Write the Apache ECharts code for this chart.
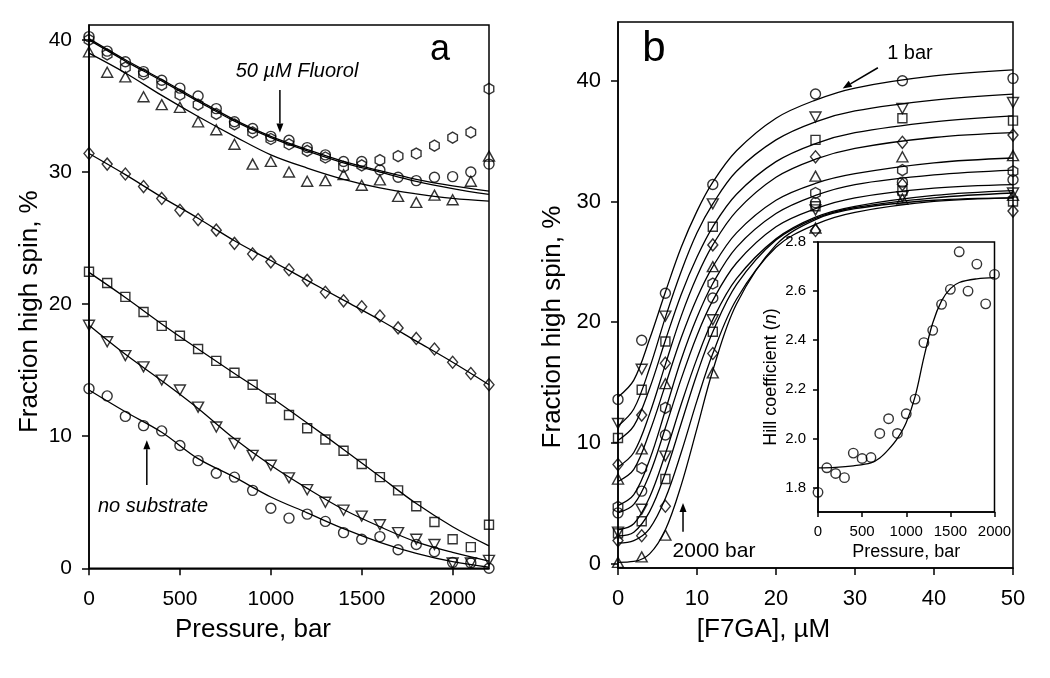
<!DOCTYPE html>
<html><head><meta charset="utf-8">
<script src="https://cdn.jsdelivr.net/npm/echarts@6/dist/echarts.min.js"></script>
<style>html,body{margin:0;padding:0;background:#fff}#c{width:1050px;height:678px}</style>
</head><body><div id="c"></div>
<script>
// ---------------- Panel a : fraction high spin vs pressure ----------------
const pressureA = [0,100,200,300,400,500,600,700,800,900,1000,1100,1200,1300,1400,1500,1600,1700,1800,1900,2000,2100,2200];
const aNoSubstrate = [13.6,13.05,11.5,10.8,10.4,9.3,8.15,7.2,6.9,5.9,4.55,3.8,4.1,3.55,2.7,2.2,2.4,1.4,1.8,1.25,0.45,0.4,0.0];
const aDown      = [18.4,17.15,16.1,15.25,14.25,13.5,12.2,10.7,9.45,8.55,7.8,6.85,5.95,5.0,4.4,3.95,3.3,2.7,2.2,1.8,0.4,0.4,0.6];
const aSquare    = [22.45,21.6,20.55,19.4,18.35,17.6,16.6,15.7,14.8,13.9,12.85,11.6,10.6,9.75,8.9,7.9,6.9,5.9,4.7,3.5,2.2,1.6,3.3];
const aDiamond   = [31.4,30.6,29.85,28.9,28.0,27.1,26.4,25.6,24.6,23.8,23.2,22.6,21.8,20.9,20.25,19.8,19.1,18.2,17.4,16.6,15.6,14.75,13.9];
const aTriangle  = [39.1,37.55,37.2,35.7,35.1,34.9,33.8,33.2,32.1,30.6,30.8,30.0,29.3,29.35,29.8,29.0,29.4,28.15,27.7,28.25,27.9,29.3,31.2];
const aCircle    = [40.25,39.15,38.35,37.6,36.95,36.35,35.75,34.8,33.8,33.3,32.7,32.4,31.85,31.3,30.8,30.8,30.15,29.6,29.35,29.6,29.65,30.0,30.6];
const aHexagon   = [40.0,38.9,37.9,37.4,36.6,35.85,35.1,34.4,33.6,33.0,32.5,32.1,31.6,31.1,30.4,30.5,30.9,31.2,31.4,32.0,32.6,33.0,36.3];

const fitPressureA = [0,200,400,600,800,1000,1200,1400,1600,1800,2000,2200];
const fitNoSubstrate = [13.5,11.85,10.3,8.3,6.9,5.4,4.2,3.0,1.97,1.13,0.5,0.08];
const fitDown      = [18.4,16.2,14.2,12.1,9.8,7.8,6.05,4.45,3.15,2.0,1.2,0.55];
const fitSquare    = [22.4,20.5,18.5,16.6,14.75,12.95,11.0,9.0,6.95,4.9,3.15,1.7];
const fitDiamond   = [31.4,29.8,28.1,26.5,24.8,23.3,21.8,20.3,18.8,17.2,15.6,13.9];
const fitTriangle  = [39.0,37.5,35.8,34.2,32.7,31.3,30.3,29.45,28.8,28.35,28.0,27.8];
const fitCircle    = [40.1,38.5,37.0,35.45,33.95,32.7,31.7,30.8,30.1,29.45,28.95,28.55];
const fitHexagon   = [40.0,38.4,36.9,35.35,33.85,32.6,31.6,30.7,30.0,29.3,28.75,28.3];

// ---------------- Panel b : fraction high spin vs [F7GA] ----------------
const f7ga = [0,3,6,12,25,36,50];
const b1    = [13.6,18.5,22.4,31.4,38.9,40.0,40.2];
const b200  = [11.6,16.1,20.5,29.8,37.0,37.7,38.2];
const b400  = [10.4,14.4,18.4,27.9,35.1,36.9,36.7];
const b600  = [8.2,12.3,16.6,26.4,33.7,34.9,35.5];
const b800  = [7.0,9.5,14.9,24.6,32.1,33.7,33.8];
const b1000 = [4.7,7.9,12.9,23.2,30.7,32.6,32.5];
const b1200 = [4.2,6.0,10.65,22.0,29.9,31.6,31.8];
const b1400 = [2.6,4.5,8.9,20.2,29.3,30.4,30.7];
const b1600 = [2.5,3.5,7.0,19.2,29.6,30.9,30.0];
const b1800 = [1.9,2.3,4.75,17.4,27.6,31.4,29.2];
const b2000 = [0.1,0.55,2.35,15.8,27.8,30.2,30.5];

const fitF7ga = [0,2,4,6,8,10,12,15,20,25,30,40,50];
const fb1    = [13.8,15.2,18.6,22.5,26.2,29.2,31.6,34.2,36.9,38.4,39.4,40.4,40.9];
const fb200  = [11.4,12.8,16.2,20.4,24.2,27.4,29.8,32.5,35.1,36.6,37.5,38.4,38.9];
const fb400  = [10.2,11.4,14.5,18.5,22.3,25.4,27.9,30.6,33.3,34.8,35.7,36.6,37.1];
const fb600  = [8.0,9.2,12.4,16.5,20.5,23.8,26.4,29.2,32.0,33.5,34.4,35.3,35.7];
const fb800  = [6.8,7.8,10.9,14.8,18.7,22.0,24.6,27.4,30.1,31.5,32.3,33.2,33.6];
const fb1000 = [4.8,5.7,8.6,12.7,16.9,20.4,23.2,26.2,29.0,30.5,31.4,32.2,32.6];
const fb1200 = [4.2,4.9,7.4,11.25,15.3,18.9,21.8,24.9,27.9,29.4,30.3,31.1,31.4];
const fb1400 = [2.8,3.3,5.5,9.1,13.2,17.0,20.2,23.6,26.9,28.7,29.6,30.5,30.9];
const fb1600 = [2.3,2.6,4.3,7.5,11.6,15.7,19.2,23.1,26.8,28.6,29.5,30.3,30.7];
const fb1800 = [1.7,1.9,2.9,5.4,9.2,13.5,17.4,21.9,26.2,28.1,29.1,30.0,30.3];
const fb2000 = [0.1,0.17,0.8,2.8,6.5,11.2,16.0,21.5,26.4,28.5,29.4,30.1,30.3];

// ---------------- Inset : Hill coefficient vs pressure ----------------
const insetPressure = [0,100,200,300,400,500,600,700,800,900,1000,1100,1200,1300,1400,1500,1600,1700,1800,1900,2000];
const insetHill     = [1.78,1.88,1.857,1.84,1.94,1.918,1.922,2.02,2.08,2.02,2.10,2.16,2.39,2.44,2.546,2.607,2.76,2.60,2.71,2.548,2.668];
const insetFitP     = [0,200,400,600,700,800,900,1000,1100,1200,1300,1400,1500,1600,1800,2000];
const insetFitHill  = [1.88,1.882,1.888,1.90,1.92,1.955,2.0,2.065,2.17,2.33,2.47,2.56,2.61,2.635,2.65,2.655];

// tick labels
const ticksAx = [0,500,1000,1500,2000];
const ticksAy = [0,10,20,30,40];
const ticksBx = [0,10,20,30,40,50];
const ticksBy = [0,10,20,30,40];
const ticksIx = [0,500,1000,1500,2000];
const ticksIy = [1.8,2.0,2.2,2.4,2.6,2.8];

const FONT = '"Liberation Sans", Arial, sans-serif';
const NARROW = '"Liberation Sans Narrow", "Arial Narrow", "Liberation Sans", sans-serif';

const SYM = {
  circle:  {symbol:'circle', symbolSize:10},
  down:    {symbol:'triangle', symbolRotate:180, symbolSize:[11,10]},
  square:  {symbol:'rect', symbolSize:9},
  diamond: {symbol:'diamond', symbolSize:[10,12]},
  up:      {symbol:'triangle', symbolSize:[11,10]},
  hex:     {symbol:'path://M0,-10L8.66,-5L8.66,5L0,10L-8.66,5L-8.66,-5Z', symbolSize:11, symbolKeepAspect:true}
};
function scatter(g, xs, ys, sym, size){
  const s = Object.assign({type:'scatter', xAxisIndex:g, yAxisIndex:g,
    data: xs.map((x,i)=>[x, ys[i]]),
    itemStyle:{color:'rgba(0,0,0,0)', borderColor:'#000', borderWidth:1.4},
    clip:false, silent:true, z:3}, SYM[sym]);
  if (size) s.symbolSize = size;
  return s;
}
function line(g, xs, ys, sm){
  return {type:'line', xAxisIndex:g, yAxisIndex:g, data: xs.map((x,i)=>[x, ys[i]]),
    showSymbol:false, smooth: sm || 0.35, clip:true,
    lineStyle:{color:'#000', width:1.3}, silent:true, z:2};
}
function axis(g, min, max, ticks, name, o){
  return {gridIndex:g, type:'value', min:min, max:max,
    name:name, nameLocation:'middle', nameGap:o.nameGap,
    nameTextStyle:{color:'#000', fontSize:o.nameSize, fontFamily:FONT, padding:o.namePad||0,
      rich:{i:{fontStyle:'italic', fontSize:o.nameSize, fontFamily:FONT, color:'#000'}}},
    axisLine:{show:true, onZero:false, lineStyle:{color:'#000', width:1.5}},
    axisTick:{show:true, inside:false, length:o.tickLen||7, customValues:ticks, lineStyle:{color:'#000', width:1.5}},
    axisLabel:{customValues:ticks, margin:o.margin, color:'#000', fontSize:o.labelSize, fontFamily:o.labelFont||FONT,
      formatter: o.fmt || (v=>String(v))},
    splitLine:{show:false}};
}

const gridStyle = {show:true, borderColor:'#000', borderWidth:1.5, backgroundColor:'rgba(0,0,0,0)'};
const option = {
  animation:false,
  backgroundColor:'#fff',
  grid:[
    Object.assign({left:89, top:25, width:400, height:543.3}, gridStyle),
    Object.assign({left:618, top:22, width:395, height:546}, gridStyle),
    Object.assign({left:818, top:242, width:176.5, height:270}, gridStyle, {backgroundColor:'#fff'})
  ],
  xAxis:[
    axis(0, 0, 2200, ticksAx, 'Pressure, bar', {nameGap:49, nameSize:26, margin:20, labelSize:21, namePad:[0,72,0,0]}),
    axis(1, 0, 50, ticksBx, '[F7GA], µM', {nameGap:49, nameSize:26, margin:20, labelSize:22, namePad:[0,104,0,0]}),
    axis(2, 0, 2000, ticksIx, 'Pressure, bar', {nameGap:31, nameSize:18, margin:12, labelSize:15, labelFont:NARROW, tickLen:5})
  ],
  yAxis:[
    axis(0, 0, 41.13, ticksAy, 'Fraction high spin, %', {nameGap:46, nameSize:26, margin:17, labelSize:21, namePad:[0,30,0,0]}),
    axis(1, -0.37, 44.87, ticksBy, 'Fraction high spin, %', {nameGap:52, nameSize:26, margin:17, labelSize:22, namePad:[0,64,0,0]}),
    axis(2, 1.7, 2.8, ticksIy, 'Hill coefficient ({i|n})', {nameGap:38, nameSize:18, margin:12, labelSize:15, labelFont:NARROW, tickLen:5, fmt:v=>v.toFixed(1)})
  ],
  series:[
    line(0, fitPressureA, fitNoSubstrate), line(0, fitPressureA, fitDown), line(0, fitPressureA, fitSquare),
    line(0, fitPressureA, fitDiamond), line(0, fitPressureA, fitTriangle), line(0, fitPressureA, fitCircle),
    line(0, fitPressureA, fitHexagon),
    scatter(0, pressureA, aNoSubstrate, 'circle'), scatter(0, pressureA, aDown, 'down'),
    scatter(0, pressureA, aSquare, 'square'), scatter(0, pressureA, aDiamond, 'diamond'),
    scatter(0, pressureA, aTriangle, 'up'), scatter(0, pressureA, aCircle, 'circle'),
    scatter(0, pressureA, aHexagon, 'hex'),

    line(1, fitF7ga, fb1), line(1, fitF7ga, fb200), line(1, fitF7ga, fb400), line(1, fitF7ga, fb600),
    line(1, fitF7ga, fb800), line(1, fitF7ga, fb1000), line(1, fitF7ga, fb1200), line(1, fitF7ga, fb1400),
    line(1, fitF7ga, fb1600), line(1, fitF7ga, fb1800), line(1, fitF7ga, fb2000),
    scatter(1, f7ga, b1, 'circle'), scatter(1, f7ga, b200, 'down'), scatter(1, f7ga, b400, 'square'),
    scatter(1, f7ga, b600, 'diamond'), scatter(1, f7ga, b800, 'up'), scatter(1, f7ga, b1000, 'hex'),
    scatter(1, f7ga, b1200, 'circle'), scatter(1, f7ga, b1400, 'down'), scatter(1, f7ga, b1600, 'square'),
    scatter(1, f7ga, b1800, 'diamond'), scatter(1, f7ga, b2000, 'up'),

    line(2, insetFitP, insetFitHill),
    scatter(2, insetPressure, insetHill, 'circle', 9.5)
  ]
};

const chart = echarts.init(document.getElementById('c'), null, {renderer:'canvas'});
chart.setOption(option);

// annotations placed in data coordinates
const notes = [
  {g:0, text:'50 µM Fluorol', at:[1144, 37.6], font:'italic 20px ' + FONT},
  {g:0, text:'no substrate', at:[352, 4.66], font:'italic 20px ' + FONT},
  {g:0, text:'a', at:[1930, 39.2], font:'36px ' + FONT},
  {g:1, text:'b', at:[4.56, 42.6], font:'42px ' + FONT},
  {g:1, text:'1 bar', at:[36.96, 42.25], font:'20px ' + FONT},
  {g:1, text:'2000 bar', at:[12.15, 1.04], font:'21px ' + FONT}
];
const arrows = [
  {g:0, from:[1050, 36.2], to:[1050, 33.0]},
  {g:0, from:[318, 6.3], to:[318, 9.7]},
  {g:1, from:[32.9, 41.08], to:[28.44, 39.37]},
  {g:1, from:[8.23, 2.63], to:[8.23, 5.01]}
];
const gfx = [];
const toPx = (g, p) => chart.convertToPixel({xAxisIndex:g, yAxisIndex:g}, p);
notes.forEach(n => {
  const p = toPx(n.g, n.at);
  gfx.push({type:'text', silent:true, z:10, x:p[0], y:p[1],
    style:{text:n.text, font:n.font, fill:'#000', align:'center', verticalAlign:'middle'}});
});
arrows.forEach(a => {
  const p1 = toPx(a.g, a.from), p2 = toPx(a.g, a.to);
  const dx = p2[0]-p1[0], dy = p2[1]-p1[1], L = Math.hypot(dx, dy);
  const ux = dx/L, uy = dy/L, hl = 9, hw = 3.5;
  const bx = p2[0]-ux*hl, by = p2[1]-uy*hl;
  gfx.push({type:'line', silent:true, z:10, shape:{x1:p1[0], y1:p1[1], x2:bx, y2:by}, style:{stroke:'#000', lineWidth:1.5}});
  gfx.push({type:'polygon', silent:true, z:10, shape:{points:[[p2[0],p2[1]],[bx-uy*hw, by+ux*hw],[bx+uy*hw, by-ux*hw]]}, style:{fill:'#000'}});
});
chart.setOption({graphic:gfx});
</script>
</body></html>
